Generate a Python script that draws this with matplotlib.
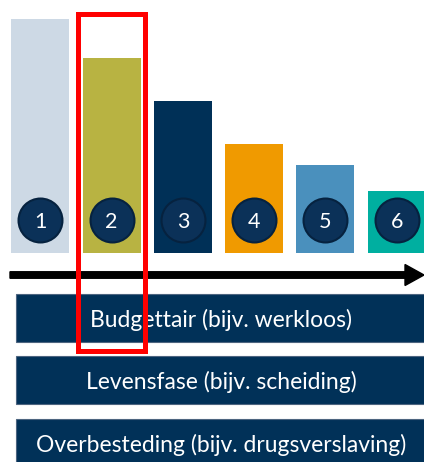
"""Staafjes met genummerde cirkels, pijl en drie categorieblokken."""

import matplotlib

matplotlib.use("Agg")
import matplotlib.pyplot as plt  # noqa: E402
from matplotlib.patches import FancyArrow, Rectangle  # noqa: E402

# data
labels = ["1", "2", "3", "4", "5", "6"]
values = [234, 195, 152, 109, 88, 62]
bar_colors = ["#cdd9e5", "#b8b342", "#003057", "#f09a00", "#4a90bd", "#00afa0"]
categories = [
    "Budgettair (bijv. werkloos)",
    "Levensfase (bijv. scheiding)",
    "Overbesteding (bijv. drugsverslaving)",
]
highlight = 1  # index of the framed bar

W, H = 424, 462
FONT = ["Lato", "DejaVu Sans"]
NAVY = "#013158"


def main():
    fig = plt.figure(figsize=(W / 100, H / 100), dpi=100)

    # bars: baseline at y=253 px, one unit = one pixel
    base = 253
    ax = fig.add_axes([0, (H - base) / H, 1, base / H])
    step, first = 71.24, 40.4
    ax.set_xlim(-first / step, (W - first) / step)
    ax.set_ylim(0, base)
    ax.axis("off")
    xs = list(range(len(values)))
    ax.bar(xs, values, width=58 / step, color=bar_colors, align="center")

    # numbered circles near the bottom of each bar
    ax.scatter(xs, [33.5] * len(xs), s=1000, color="#0b3158",
               edgecolors="#06223f", linewidths=1.5, zorder=3)
    for x, lab in zip(xs, labels):
        ax.text(x, 33.5, lab, color="white", fontsize=15.5, family=FONT,
                ha="center", va="center_baseline", zorder=4)

    # overlay in pixel coordinates
    ov = fig.add_axes([0, 0, 1, 1])
    ov.set_xlim(0, W)
    ov.set_ylim(H, 0)
    ov.axis("off")
    ov.patch.set_alpha(0)

    # time arrow
    ov.add_patch(FancyArrow(10, 275, 414, 0, width=6.5, head_width=21,
                            head_length=19, length_includes_head=True,
                            color="black"))

    # category blocks
    tops = [294, 356, 419]
    for top, txt in zip(tops, categories):
        ov.add_patch(Rectangle((16, top), 412, 48, facecolor=NAVY,
                               edgecolor="#4d6580", linewidth=0.8))
        ov.text(221, top + 24, txt, color="white", fontsize=16.5, family=FONT,
                ha="center", va="center_baseline")

    # red frame around the highlighted bar
    cx = (first + highlight * step)
    ov.add_patch(Rectangle((cx - 34, 13.5), 67, 337, fill=False,
                           edgecolor="#ff0000", linewidth=3.6, zorder=5))

    fig.savefig("out.png", dpi=100)


if __name__ == "__main__":
    main()
